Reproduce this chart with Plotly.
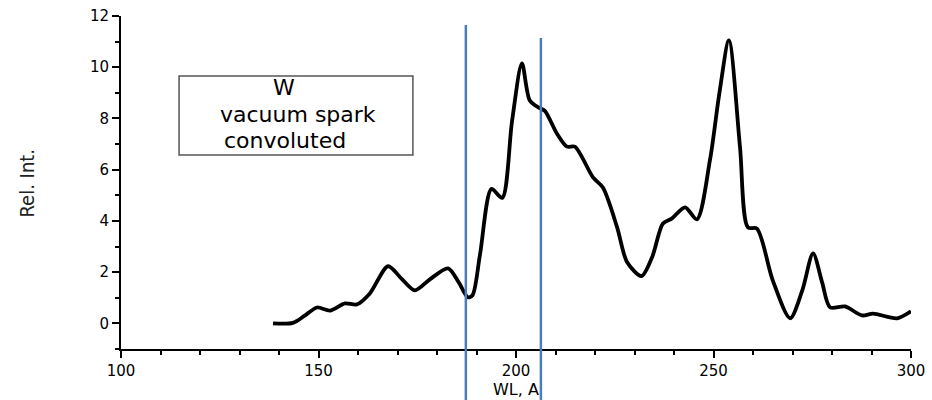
import plotly.graph_objects as go

# Wavelength (A) and relative intensity
wl = [138.5, 143.5, 146.5, 149.6, 152.9, 156.7, 159.7, 163.0, 167.6, 171.0,
      174.4, 178.2, 182.8, 185.5, 187.8, 189.0, 190.9, 193.8, 196.5, 199.0,
      201.5, 203.5, 206.0, 207.3, 210.4, 212.9, 214.9, 219.5, 222.0, 225.6,
      228.1, 231.8, 234.5, 237.2, 239.5, 242.8, 245.8, 249.1, 251.5, 253.9,
      256.7, 258.7, 261.0, 265.0, 269.4, 272.5, 275.2, 277.5, 279.5, 283.3,
      287.6, 290.4, 296.5, 300.0]
rel_int = [0.0, 0.02, 0.3, 0.62, 0.5, 0.78, 0.74, 1.17, 2.23, 1.75,
           1.29, 1.72, 2.15, 1.6, 1.02, 1.1, 2.7, 5.25, 4.9, 7.9,
           10.15, 8.7, 8.4, 8.3, 7.4, 6.9, 6.9, 5.7, 5.3, 3.75,
           2.4, 1.85, 2.6, 3.9, 4.1, 4.53, 4.06, 6.37, 9.0, 11.05,
           6.9, 3.75, 3.7, 1.68, 0.2, 1.3, 2.73, 1.6, 0.63, 0.66,
           0.31, 0.38, 0.2, 0.47]

marker_lines = [187.3, 206.3]
marker_tops = [0.973, 0.934]

box_lines = ["W", "vacuum spark", "convoluted"]

fig = go.Figure()
fig.add_trace(go.Scatter(x=wl, y=rel_int, mode="lines",
                         line=dict(color="black", width=3.8, shape="spline", smoothing=0.8),
                         showlegend=False, hoverinfo="skip"))

font_tick = dict(family="DejaVu Sans, sans-serif", size=15, color="black")

fig.update_layout(
    width=932, height=400,
    margin=dict(l=121, r=21, t=16, b=51),
    paper_bgcolor="white", plot_bgcolor="white",
    xaxis=dict(range=[100, 300], dtick=50, tick0=100, showgrid=False, zeroline=False,
               automargin=False,
               showline=True, linecolor="black", linewidth=2,
               ticks="outside", ticklen=7, tickwidth=1.5, tickcolor="black",
               minor=dict(dtick=10, ticks="outside", ticklen=4, tickwidth=1.5, tickcolor="black"),
               tickfont=font_tick),
    yaxis=dict(range=[-1, 12], dtick=2, tick0=0, showgrid=False, zeroline=False,
               automargin=False,
               showline=True, linecolor="black", linewidth=2,
               ticks="outside", ticklen=7, tickwidth=1.5, tickcolor="black",
               minor=dict(dtick=1, ticks="outside", ticklen=4, tickwidth=1.5, tickcolor="black"),
               tickfont=font_tick),
)

# axis titles
fig.add_annotation(text="Rel. Int.", xref="paper", yref="paper", x=-0.119, y=0.5,
                   textangle=-90, showarrow=False, xanchor="center", yanchor="middle",
                   font=dict(family="Liberation Sans Narrow, DejaVu Sans Condensed, Liberation Sans, sans-serif",
                             size=20, color="#222"))
fig.add_annotation(text="WL, A", xref="paper", yref="paper", x=0.5, y=-0.121,
                   showarrow=False, xanchor="center", yanchor="middle",
                   font=dict(family="DejaVu Sans, sans-serif", size=16, color="black"))

# text box
fig.add_shape(type="rect", xref="x", yref="y", x0=114.7, x1=173.9, y0=6.57, y1=9.66,
              line=dict(color="#555", width=1.5), fillcolor="white", layer="below")
box_x = [141.3, 144.7, 141.4]
box_y = [9.2, 8.15, 7.15]
for t, bx, by in zip(box_lines, box_x, box_y):
    fig.add_annotation(text=t, x=bx, y=by, xref="x", yref="y", showarrow=False,
                       xanchor="center", yanchor="middle",
                       font=dict(family="DejaVu Sans, sans-serif", size=22, color="black"))

# vertical marker lines
for xv, top in zip(marker_lines, marker_tops):
    fig.add_shape(type="line", xref="x", yref="paper", x0=xv, x1=xv, y0=-0.16, y1=top,
                  line=dict(color="#4a7ebb", width=2.5))

fig.write_html("out.html")
